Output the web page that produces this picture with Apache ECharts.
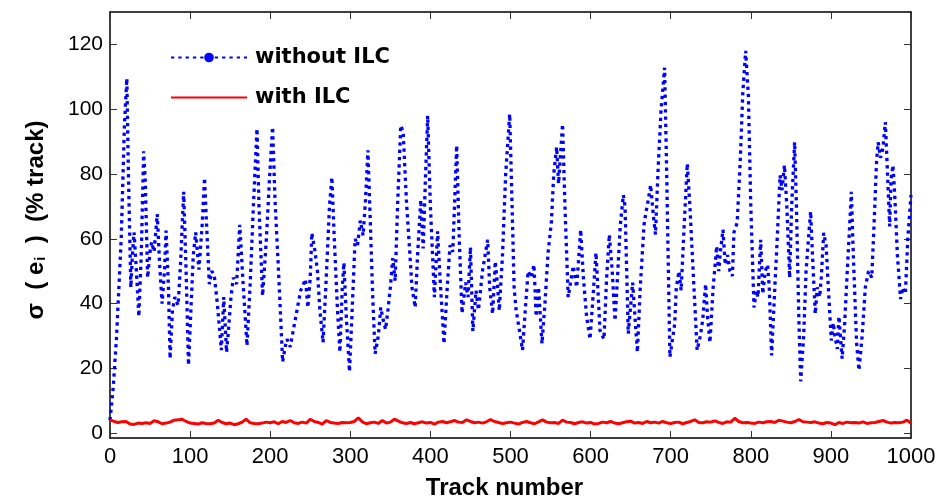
<!DOCTYPE html>
<html>
<head>
<meta charset="utf-8">
<script src="https://cdn.jsdelivr.net/npm/echarts@6/dist/echarts.min.js"></script>
<style>
  html, body { margin: 0; padding: 0; background: #fff; }
  #chart { width: 939px; height: 499px; }
</style>
</head>
<body>
<div id="chart"></div>
<script>
// Tracking error spread per track, with and without iterative learning control
const xTicks = [0, 100, 200, 300, 400, 500, 600, 700, 800, 900, 1000];
const yTicks = [0, 20, 40, 60, 80, 100, 120];

// without ILC: track number / sigma value at the turning points of the trace
const withoutTracks = [0, 4, 8, 14, 18, 21, 23, 26, 28, 30, 33, 36, 39, 42, 44, 47, 50, 52, 55, 59, 62, 65, 68, 70, 73, 75, 78, 81, 85, 88, 92, 95, 98, 101, 104, 107, 111, 115, 118, 121, 124, 127, 130, 134, 139, 142, 145.5, 148, 151, 154, 158, 162, 166, 171, 175, 179, 183.5, 186, 190.5, 195, 199, 203, 206, 210, 213, 215.5, 219, 221, 225, 229, 233.5, 238, 244, 247, 250, 252, 256, 259, 262, 266, 270, 274, 277, 280, 284, 287, 290, 292, 295, 299, 302, 306, 309, 312.5, 316, 319, 322, 325, 328, 331, 335, 338, 341, 344, 347, 350, 353, 356, 359, 363, 366, 370, 374, 377, 381, 384, 388, 391, 394, 396.6, 400, 405, 409, 412, 417, 421, 424.5, 428, 432.8, 436, 439.5, 444, 447, 450, 453, 457, 460, 465, 471.5, 474, 477.7, 481, 484, 486, 490, 494, 499, 502, 504.5, 507, 511, 515, 519, 522, 526, 529.3, 532, 535, 539.3, 543, 547, 551, 554, 557.6, 560, 565, 568, 572, 576, 578.4, 582.6, 587.6, 591, 595, 599.3, 603, 606.7, 609, 611.7, 616.7, 620, 623.4, 627, 630.5, 634, 637, 640.9, 643, 647, 652.5, 658.4, 662, 666.7, 669, 672, 675, 678, 681, 684, 688, 692.4, 695, 699, 705, 707, 710.4, 713, 717, 720.7, 724, 728, 733, 737, 740, 743.6, 746, 749, 753, 757.4, 760, 762, 765.3, 768, 771, 774, 777, 779, 783, 787, 790, 793.6, 797, 800, 804, 807, 809, 812.3, 815, 818, 821, 823, 826, 830, 833, 836.5, 839, 842, 845, 848.5, 851, 854.7, 857, 860, 862.3, 866, 869, 872, 874.7, 877, 880.5, 883, 886, 888, 891, 894, 897, 900.5, 903, 905, 908, 910, 914, 917, 920, 923, 925.5, 928, 932, 935, 939, 943, 947, 951, 954, 957, 959, 962, 965, 968, 971, 973.4, 975, 977.5, 980, 983, 987, 990, 993, 996, 1000];
const withoutValues = [4, 14, 29, 60, 95, 109.5, 80, 45, 55, 62, 50, 36, 55, 87, 78, 48, 56, 59, 56, 67.6, 52, 40, 50, 62.5, 45, 23, 38, 42, 39.5, 52, 74.5, 50, 21, 38, 55, 62, 50.5, 64, 78.8, 62, 46, 50, 49, 40, 25.6, 42, 25, 32, 42, 48, 46, 64.3, 47, 27, 46, 70, 94, 70, 42.4, 59, 78, 94.5, 72, 52, 36, 22, 27, 29, 26.6, 32, 38, 44, 47.5, 38.8, 48, 61.8, 56, 50, 38, 28, 48, 70, 79, 60, 38, 25, 45, 52.6, 36, 19, 36, 60, 58, 65.6, 61, 72, 87.3, 65, 42, 24.5, 30, 38.8, 35, 32, 38, 45, 54, 47, 70, 95, 93, 72, 56.7, 45, 38.8, 55, 72, 57, 80, 98, 70, 42, 62.3, 48, 27.6, 45, 58, 56, 88.8, 60, 37, 46.5, 42, 57.4, 31.5, 44, 38, 50, 59.7, 45, 36.8, 53, 45, 37.8, 55, 80, 98.5, 70, 45, 38, 32, 25.6, 40, 50, 48, 52, 36, 45, 27.6, 40, 56, 65, 80, 88.3, 77, 95.4, 70, 42, 48, 51.6, 45, 62.8, 48, 36, 29, 42, 55.7, 45, 31.7, 29, 48, 61.3, 50, 34.7, 50, 64, 73.5, 70, 30.7, 46.5, 25, 45, 64.3, 68, 72, 76.6, 68, 61.3, 80, 100, 112.8, 80, 23.5, 33.7, 45, 50, 44, 65, 83.2, 70, 50, 25.6, 30, 35, 46, 36, 28, 45, 57.7, 50, 56, 62.8, 52, 55, 50, 48.5, 62, 65, 85, 105, 118, 104, 70, 38.8, 44, 42, 59.7, 43, 50, 52, 45, 24, 45, 60, 79.6, 75, 82.7, 70, 48, 70, 89.8, 70, 35, 16, 30, 50, 60, 68.4, 55, 36.8, 45, 42, 48, 61.8, 58, 44, 28.6, 34, 30, 26, 36, 23, 33, 48, 62, 74.5, 55, 28, 19.4, 30, 45, 50, 48, 65, 84, 89.8, 85, 88, 96, 78, 63.8, 78, 82.7, 72, 55, 41.4, 45, 43, 60, 73.5];

// with ILC: sigma value every 5 tracks, from track 0 to 1000
const withStep = 5;
const withValues = [
  4.1, 3.6, 3.3, 3.5, 3.6, 2.8, 2.7, 3.1, 3.0, 3.2, 3.0, 3.8, 3.5, 2.9, 3.1, 3.4, 4.0, 4.1, 4.3, 3.6,
  3.1, 3.0, 2.8, 3.2, 3.0, 2.9, 3.1, 4.0, 3.3, 2.9, 3.1, 2.6, 2.9, 3.4, 4.3, 3.2, 3.0, 2.9, 3.1, 3.4,
  3.2, 3.5, 2.9, 3.6, 3.3, 3.9, 3.2, 3.0, 3.4, 3.1, 4.3, 3.6, 3.3, 2.8, 3.9, 3.3, 3.1, 3.0, 3.3, 3.2,
  3.3, 3.6, 4.7, 3.5, 2.9, 3.2, 3.4, 3.0, 3.9, 3.1, 3.4, 4.3, 3.7, 3.2, 3.0, 3.3, 2.9, 3.2, 3.5, 3.1,
  3.3, 2.8, 3.4, 3.6, 3.2, 3.5, 3.9, 3.4, 3.3, 4.1, 3.6, 3.2, 3.4, 3.1, 3.5, 4.2, 3.6, 3.3, 3.0, 3.2,
  3.4, 3.1, 2.8, 3.3, 3.6, 3.2, 2.9, 3.5, 4.1, 3.4, 3.2, 3.3, 3.0, 4.0, 3.4, 3.3, 2.9, 3.3, 3.5, 3.1,
  3.3, 2.8, 3.0, 3.4, 3.2, 3.6, 3.1, 2.9, 3.2, 3.5, 3.7, 3.1, 3.3, 3.0, 3.6, 3.2, 3.4, 3.1, 3.6, 3.2,
  3.0, 3.3, 3.4, 2.9, 3.3, 3.6, 4.1, 3.3, 3.2, 3.5, 3.4, 3.8, 3.3, 3.0, 3.5, 3.4, 4.6, 3.6, 3.2, 3.3,
  3.1, 3.0, 3.4, 3.2, 3.5, 3.6, 3.3, 4.0, 3.7, 3.4, 3.2, 3.6, 4.2, 3.5, 3.4, 3.3, 3.5, 3.1, 2.9, 3.3,
  3.1, 2.6, 3.3, 3.0, 3.4, 3.2, 3.3, 3.1, 3.5, 3.0, 3.2, 3.3, 3.6, 3.9, 3.4, 3.1, 3.3, 3.2, 3.4, 4.0,
  3.0
];

const withoutData = withoutTracks.map((t, i) => [t, withoutValues[i]]);
const withData = withValues.map((v, i) => [i * withStep, v]);

const FONT = 'Liberation Sans, Arial, sans-serif';
const frameLine = () => ({ show: true, onZero: false, lineStyle: { color: '#000', width: 1.5 } });
const innerTick = (extra) => Object.assign({ show: true, inside: true, length: 7, lineStyle: { color: '#333', width: 1 } }, extra || {});
const legendText = { fontFamily: 'DejaVu Sans', fontWeight: 'bold', fontSize: 21, color: '#000', padding: [0, 0, 0, 3] };

const chart = echarts.init(document.getElementById('chart'), null, { renderer: 'canvas' });
chart.setOption({
  animation: false,
  backgroundColor: '#fff',
  grid: { left: 110, right: 28, top: 12, bottom: 61, containLabel: false, outerBoundsMode: 'none' },
  legend: [
    {
      data: ['without ILC'], orient: 'vertical', left: 170, top: 47, padding: 0,
      itemWidth: 76, itemHeight: 12, textStyle: legendText
    },
    {
      data: [{ name: 'with ILC', itemStyle: { opacity: 0 } }], orient: 'vertical', left: 170, top: 87, padding: 0,
      itemWidth: 76, itemHeight: 12, textStyle: legendText
    }
  ],
  xAxis: [
    {
      type: 'value', position: 'bottom', min: 0, max: 1000, interval: 100,
      name: 'Track number', nameLocation: 'middle', nameGap: 38,
      nameTextStyle: { fontFamily: FONT, fontWeight: 'bold', fontSize: 24, color: '#000', padding: [0, 12, 0, 0] },
      axisLine: frameLine(), axisTick: innerTick(),
      axisLabel: { margin: 8, showMaxLabel: true, showMinLabel: true, formatter: (v) => String(v),
        fontFamily: FONT, fontSize: 22, color: '#000' },
      splitLine: { show: false }
    },
    {
      type: 'value', position: 'top', min: 0, max: 1000, interval: 100,
      axisLine: frameLine(), axisTick: innerTick(), axisLabel: { show: false }, splitLine: { show: false }
    }
  ],
  yAxis: [
    {
      type: 'value', position: 'left', min: -1.5, max: 130,
      name: '{a|σ  ( e}{s|i}{a|  )  (% track)}', nameLocation: 'middle', nameGap: 62,
      nameTextStyle: {
        padding: [0, 0, 0, 10],
        rich: {
          a: { fontFamily: FONT, fontWeight: 'bold', fontSize: 24, color: '#000' },
          s: { fontFamily: FONT, fontWeight: 'bold', fontSize: 15, color: '#000', verticalAlign: 'bottom', padding: [9, 0, 0, 1] }
        }
      },
      axisLine: frameLine(),
      axisTick: innerTick({ customValues: yTicks }),
      axisLabel: { margin: 7, customValues: yTicks, fontFamily: FONT, fontSize: 21, color: '#000' },
      splitLine: { show: false }
    },
    {
      type: 'value', position: 'right', min: -1.5, max: 130,
      axisLine: frameLine(),
      axisTick: innerTick({ customValues: yTicks }),
      axisLabel: { show: false }, splitLine: { show: false }
    }
  ],
  series: [
    {
      name: 'without ILC', type: 'line', data: withoutData,
      xAxisIndex: 0, yAxisIndex: 0,
      symbol: 'circle', showSymbol: false,
      itemStyle: { color: '#0000ff' },
      lineStyle: { color: '#0000ff', width: 3.3, type: [3.3, 4] },
      z: 3
    },
    {
      name: 'with ILC', type: 'line', data: withData,
      xAxisIndex: 0, yAxisIndex: 0,
      symbol: 'none',
      itemStyle: { color: '#ff0000' },
      lineStyle: { color: '#ff0000', width: 3 },
      z: 4
    }
  ]
});
</script>
</body>
</html>
